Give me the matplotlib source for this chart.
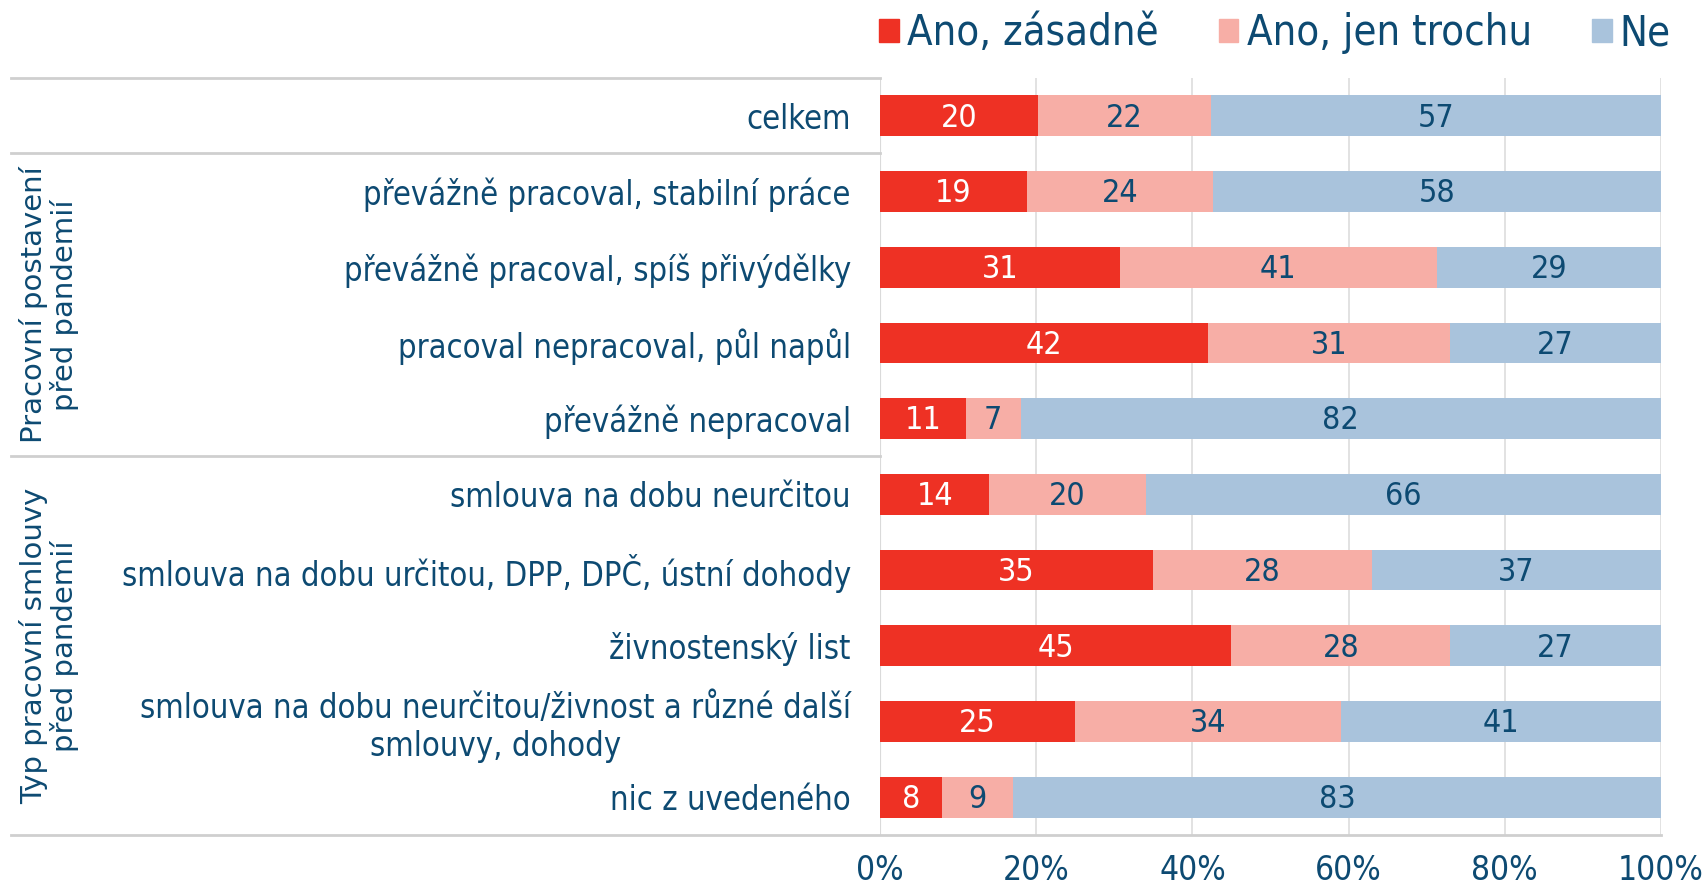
import matplotlib
matplotlib.use('Agg')
import matplotlib.pyplot as plt
from matplotlib import font_manager
from matplotlib.patches import Patch
from matplotlib.lines import Line2D

# data
categories = [
    'celkem',
    'převážně pracoval, stabilní práce',
    'převážně pracoval, spíš přivýdělky',
    'pracoval nepracoval, půl napůl',
    'převážně nepracoval',
    'smlouva na dobu neurčitou',
    'smlouva na dobu určitou, DPP, DPČ, ústní dohody',
    'živnostenský list',
    'smlouva na dobu neurčitou/živnost a různé další\nsmlouvy, dohody',
    'nic z uvedeného',
]
ano_zasadne = [20, 19, 31, 42, 11, 14, 35, 45, 25, 8]
ano_trochu = [22, 24, 41, 31, 7, 20, 28, 28, 34, 9]
ne = [57, 58, 29, 27, 82, 66, 37, 27, 41, 83]
series_names = ['Ano, zásadně', 'Ano, jen trochu', 'Ne']
groups = [('Pracovní postavení\npřed pandemií', 1, 4),
          ('Typ pracovní smlouvy\npřed pandemií', 5, 9)]
ticks = [0, 20, 40, 60, 80, 100]

colors = ['#EE3124', '#F7AEA6', '#A9C3DC']
txt_col = '#0D4A72'

# condensed font if there is one
cond = [f.name for f in font_manager.fontManager.ttflist if 'Condensed' in f.fname and 'DejaVuSans' in f.fname.replace(' ', '')]
if cond:
    fp = dict(family='DejaVu Sans', stretch='condensed')
else:
    fp = dict(family='Liberation Sans')

fig = plt.figure(figsize=(17.06, 8.88), dpi=100)
ax = fig.add_axes([880 / 1706, 1 - 835 / 888, 781 / 1706, 757 / 888])

y = list(range(len(categories)))
# normalize each row to 100 for bar widths
tot = [a + b + c for a, b, c in zip(ano_zasadne, ano_trochu, ne)]
series = [ano_zasadne, ano_trochu, ne]
left = [0] * len(y)
for k, s in enumerate(series):
    w = [v / t * 100 for v, t in zip(s, tot)]
    ax.barh(y, w, left=left, height=0.54, color=colors[k], zorder=2)
    for i in y:
        ax.text(left[i] + w[i] / 2, i + 0.03, str(s[i]), ha='center', va='center',
                fontsize=23, color='white' if k == 0 else txt_col, zorder=3, **fp)
    left = [l + ww for l, ww in zip(left, w)]

ax.set_xlim(0, 100)
ax.set_ylim(len(y) - 0.5, -0.5)
ax.set_xticks(ticks)
ax.set_xticklabels([f'{t}%' for t in ticks])
ax.set_yticks(y)
ax.set_yticklabels(categories, ha='right', multialignment='center')
for lab in ax.get_yticklabels() + ax.get_xticklabels():
    lab.set_fontsize(23.5)
    lab.set_color(txt_col)
    lab.set_fontfamily(fp['family'])
    if 'stretch' in fp:
        lab.set_fontstretch(fp['stretch'])
for lab in ax.get_xticklabels():
    lab.set_fontsize(24)
ax.tick_params(axis='y', length=0, pad=21)
ax.tick_params(axis='x', length=0, pad=14)
ax.grid(axis='x', color='#DDDDDD', lw=1.2, zorder=0)
for sp in ax.spines.values():
    sp.set_visible(False)
ax.axvline(0, color='#D0D0D0', lw=1.5, zorder=1)

# table lines
lc = '#CFCFCF'
for yy, x1 in [(78, 880), (153, 880), (456, 880), (835, 1661)]:
    fig.add_artist(Line2D([11 / 1706, x1 / 1706], [1 - yy / 888] * 2, color=lc, lw=2))

# group labels
row_h = 757 / 10
for name, a, b in groups:
    yc = 78 + row_h * (a + b + 1) / 2
    fig.text(49 / 1706, 1 - yc / 888, name, rotation=90, ha='center', va='center',
             fontsize=21, color=txt_col, family='DejaVu Sans', linespacing=1.05,
             multialignment='center')

handles = [Patch(color=c) for c in colors]
leg = fig.legend(handles, series_names, loc='center right', bbox_to_anchor=(1671 / 1706, 1 - 33 / 888),
                 ncol=3, frameon=False, handlelength=0.47, handleheight=0.47, handletextpad=0.2,
                 columnspacing=1.44, borderpad=0, borderaxespad=0,
                 prop=font_manager.FontProperties(size=30, **fp))
for t in leg.get_texts():
    t.set_color(txt_col)

fig.savefig('out.png', dpi=100)
